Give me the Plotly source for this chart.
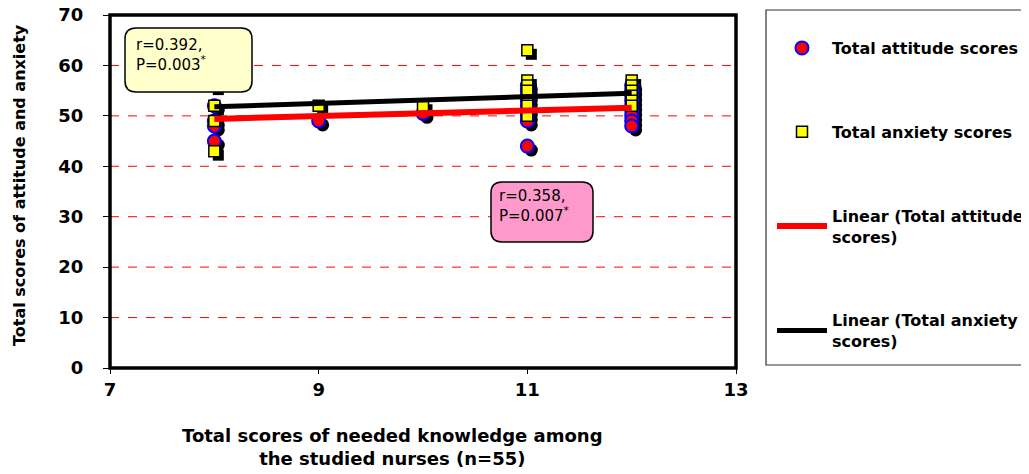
import plotly.graph_objects as go

# ---------------- data ----------------
att_x = [8, 8, 8, 8, 9, 10, 11, 11, 11, 11, 11, 11, 11, 11, 11, 12, 12, 12, 12, 12, 12, 12, 12, 12]
att_y = [52, 49, 48, 45, 49, 50.5, 56, 55, 54, 53, 52, 51, 50, 49, 44, 56, 55, 54, 53, 52, 51, 50, 49, 48]
anx_x = [8, 8, 8, 8, 9, 10, 11, 11, 11, 11, 11, 11, 11, 12, 12, 12, 12, 12, 12]
anx_y = [56, 52, 49, 43, 52, 52, 63, 57, 56, 55, 53, 52, 50, 57, 56, 55, 54, 53, 52]
trend_x = [8, 12]
att_trend = [49.4, 51.6]
anx_trend = [51.8, 54.5]
x_ticks = [7, 9, 11, 13]
y_ticks = [0, 10, 20, 30, 40, 50, 60, 70]
names = ["Total attitude scores", "Total anxiety scores",
         "Linear (Total attitude<br>scores)", "Linear (Total anxiety<br>scores)"]
box1_text = "r=0.392,<br>P=0.003<sup>*</sup>"
box2_text = "r=0.358,<br>P=0.007<sup>*</sup>"
x_title = "Total scores of needed knowledge among<br>the studied nurses (n=55)"
y_title = "Total scores of attitude and anxiety"

# ---------------- layout geometry ----------------
W, H = 1029, 474
OFF = 8  # page body margin of the browser
# plot area in page pixels: x 110..736, y 15..368
ML, MT = 110 - OFF, 15 - OFF
PW, PH = 626, 353
MR, MB = W - ML - PW, H - MT - PH
S = 4  # shadow offset px
X_RANGE = [7, 13]
Y_RANGE = [0, 70]
dx = S * (X_RANGE[1] - X_RANGE[0]) / PW
dy = S * (Y_RANGE[1] - Y_RANGE[0]) / PH


def px_x(p):
    # page pixel -> paper
    return (p - OFF - ML) / PW


def px_y(p):
    return (MT + PH - (p - OFF)) / PH


def rrect(x0, y0, x1, y1, r=11):
    X0, X1 = px_x(x0), px_x(x1)
    Y0, Y1 = px_y(y1), px_y(y0)  # bottom, top in paper
    rx, ry = r / PW, r / PH
    return (f"M {X0+rx},{Y1} L {X1-rx},{Y1} Q {X1},{Y1} {X1},{Y1-ry} "
            f"L {X1},{Y0+ry} Q {X1},{Y0} {X1-rx},{Y0} L {X0+rx},{Y0} "
            f"Q {X0},{Y0} {X0},{Y0+ry} L {X0},{Y1-ry} Q {X0},{Y1} {X0+rx},{Y1} Z")


FONT = "DejaVu Sans"
fig = go.Figure()

# shadows (base axes with offset range)
fig.add_trace(go.Scatter(x=att_x, y=att_y, mode="markers", xaxis="x", yaxis="y",
                         marker=dict(symbol="circle", size=13, color="black"),
                         showlegend=False, hoverinfo="skip"))
fig.add_trace(go.Scatter(x=anx_x, y=anx_y, mode="markers", xaxis="x", yaxis="y",
                         marker=dict(symbol="square", size=11, color="black"),
                         showlegend=False, hoverinfo="skip"))

# main marks on the visible overlaying axes
fig.add_trace(go.Scatter(x=att_x, y=att_y, mode="markers", name=names[0], legendgroup="a",
                         xaxis="x2", yaxis="y2",
                         marker=dict(symbol="circle", size=13, color="#FF0000",
                                     line=dict(color="#0000FF", width=2))))
fig.add_trace(go.Scatter(x=anx_x, y=anx_y, mode="markers", name=names[1], legendgroup="b",
                         xaxis="x2", yaxis="y2",
                         marker=dict(symbol="square", size=11, color="#FFFF00",
                                     line=dict(color="black", width=1.5))))
fig.add_trace(go.Scatter(x=trend_x, y=att_trend, mode="lines", name=names[2], legendgroup="c",
                         xaxis="x2", yaxis="y2",
                         line=dict(color="#FF0000", width=6)))
fig.add_trace(go.Scatter(x=trend_x, y=anx_trend, mode="lines", name=names[3], legendgroup="d",
                         xaxis="x2", yaxis="y2",
                         line=dict(color="black", width=5)))

grid_shapes = [dict(type="line", xref="paper", yref="y2", x0=0, x1=1, y0=v, y1=v,
                    line=dict(color="#FF0000", width=1, dash="dash"), layer="below")
               for v in y_ticks[1:-1]]

axis_font = dict(family=FONT, size=18, color="black", weight="bold")
fig.update_layout(
    width=W, height=H,
    margin=dict(l=ML, r=MR, t=MT, b=MB, autoexpand=False),
    paper_bgcolor="white", plot_bgcolor="white",
    xaxis=dict(range=[X_RANGE[0] - dx, X_RANGE[1] - dx], visible=False,
               showgrid=False, zeroline=False, anchor="y"),
    yaxis=dict(range=[Y_RANGE[0] + dy, Y_RANGE[1] + dy], visible=False,
               showgrid=False, zeroline=False, anchor="x"),
    xaxis2=dict(overlaying="x", side="bottom", anchor="y2", range=X_RANGE, tickvals=x_ticks,
                showgrid=False, zeroline=False, showline=False,
                ticks="outside", ticklen=5, tickcolor="black", tickwidth=1,
                tickfont=axis_font, ticklabeloverflow="allow"),
    yaxis2=dict(overlaying="y", side="left", anchor="x2", range=Y_RANGE, tickvals=y_ticks,
                showgrid=False, zeroline=False, showline=False,
                ticks="outside", ticklen=6, tickcolor="black", tickwidth=1,
                tickfont=axis_font, ticklabelstandoff=16, ticklabeloverflow="allow"),
    legend=dict(x=px_x(772), y=px_y(31), xanchor="left", yanchor="top",
                font=dict(family=FONT, size=16, color="black", weight="bold"),
                tracegroupgap=60, itemwidth=50, bgcolor="rgba(0,0,0,0)",
                traceorder="grouped"),
    shapes=grid_shapes + [
        dict(type="rect", xref="paper", yref="paper", x0=0, x1=1, y0=0, y1=1,
             line=dict(color="black", width=3.5), fillcolor="rgba(0,0,0,0)", layer="above"),
        dict(type="rect", xref="paper", yref="paper", x0=px_x(766), x1=px_x(1045),
             y0=px_y(365), y1=px_y(10), line=dict(color="#333333", width=1.2),
             fillcolor="rgba(0,0,0,0)", layer="below"),
        dict(type="path", xref="paper", yref="paper", path=rrect(125, 28, 252, 92),
             fillcolor="#FFFFCC", line=dict(color="black", width=1.5), layer="above"),
        dict(type="path", xref="paper", yref="paper", path=rrect(491, 182, 593, 242),
             fillcolor="#FF99CC", line=dict(color="black", width=1.5), layer="above"),
    ],
    annotations=[
        dict(text=box1_text, xref="paper", yref="paper", x=px_x(134), y=px_y(55),
             xanchor="left", yanchor="middle", align="left", showarrow=False,
             font=dict(family=FONT, size=15, color="black")),
        dict(text=box2_text, xref="paper", yref="paper", x=px_x(497), y=px_y(206),
             xanchor="left", yanchor="middle", align="left", showarrow=False,
             font=dict(family=FONT, size=15, color="black")),
        dict(text=x_title, xref="paper", yref="paper", x=px_x(392), y=px_y(447),
             xanchor="center", yanchor="middle", align="center", showarrow=False,
             font=dict(family=FONT, size=18, color="black", weight="bold")),
        dict(text=y_title, xref="paper", yref="paper", x=px_x(20), y=px_y(185),
             xanchor="center", yanchor="middle", textangle=-90, showarrow=False,
             font=dict(family=FONT, size=16, color="black", weight="bold")),
    ],
)

fig.write_html("out.html")
